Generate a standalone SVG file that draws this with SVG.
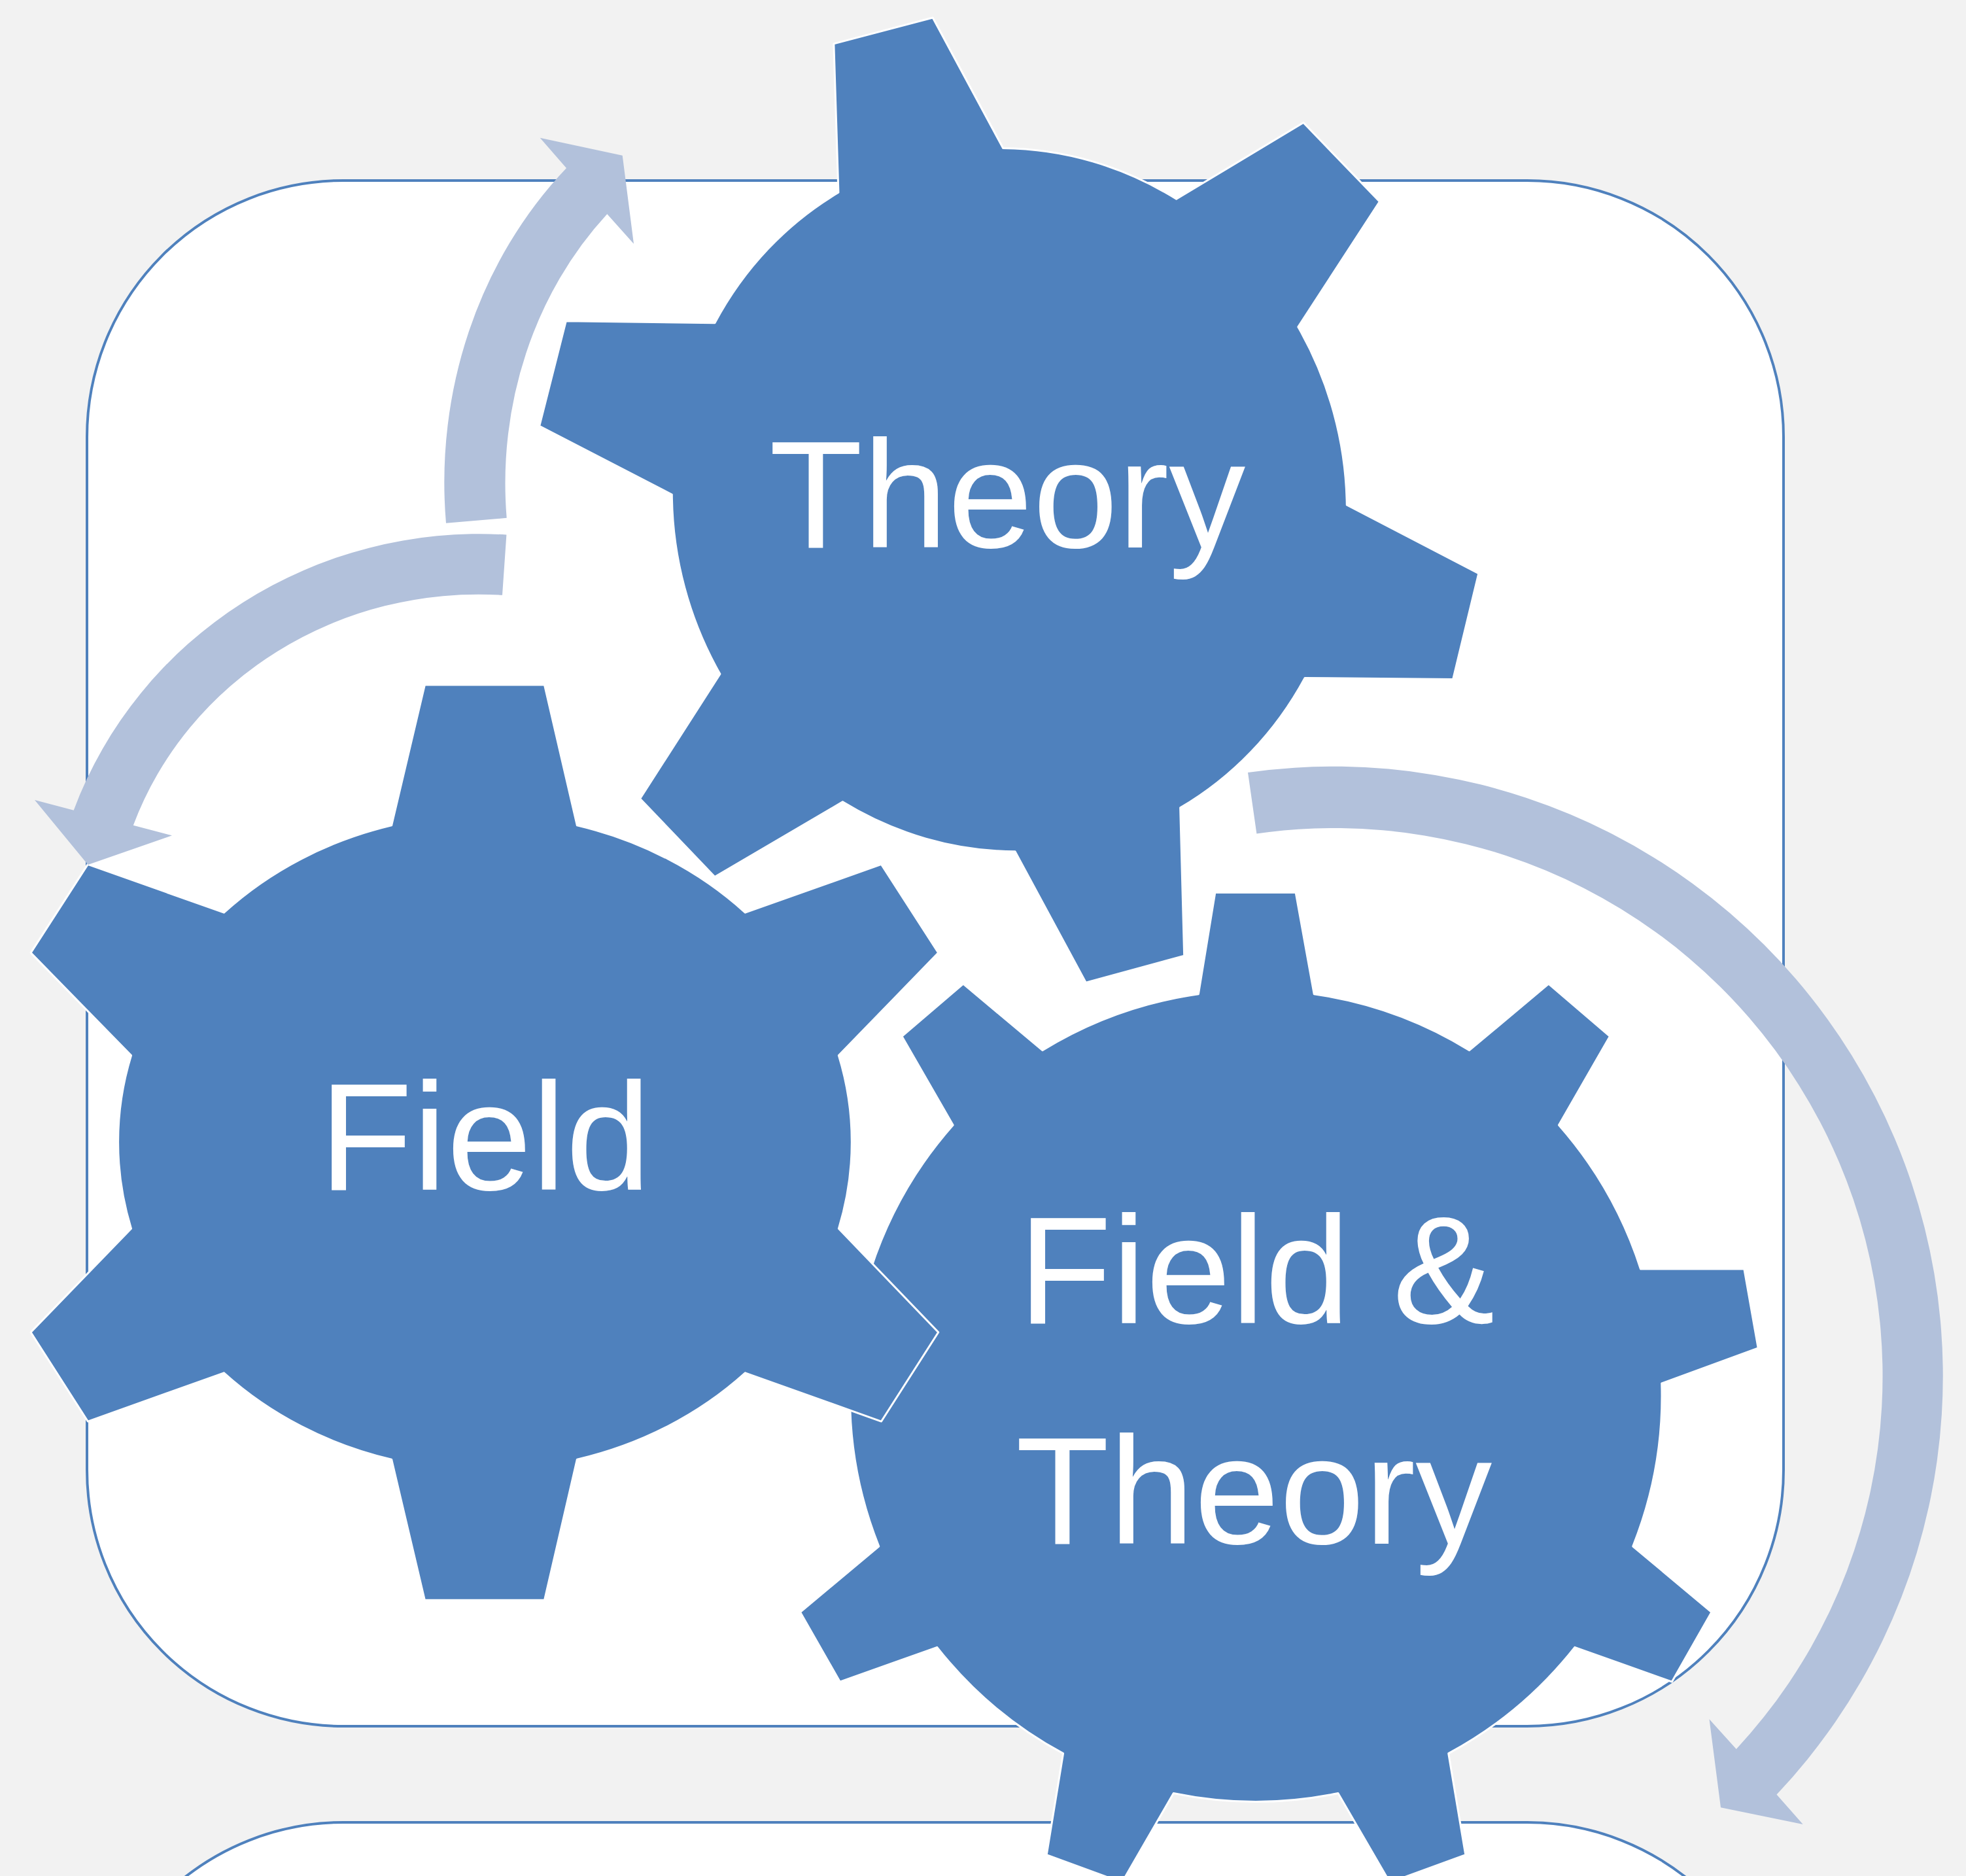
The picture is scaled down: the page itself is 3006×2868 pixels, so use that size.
<svg xmlns="http://www.w3.org/2000/svg" width="3006" height="2868" viewBox="0 0 3006 2868">
<style>
.panel{fill:#fff;stroke:#4f81bd;stroke-width:4}
.gear{fill:#4f81bd;stroke:#fff;stroke-width:3;stroke-linejoin:round}
.arrow{fill:#b2c1db}
text{font-family:"Liberation Sans",Arial,sans-serif;font-size:234px;fill:#fff}
</style>
<rect width="3006" height="2868" fill="#f2f2f2"/>
<g id="panels">
<rect class="panel" x="133" y="276" width="2594" height="2363" rx="392" ry="392"/>
<rect class="panel" x="133" y="2786" width="2594" height="2363" rx="392" ry="392"/>
</g>
<g id="gear-combined">
<path class="gear" transform="translate(1920 2131) scale(1.0025) translate(-1920 -2131)" d="M1858 1366.3L1981 1366.3L2009 1521.3A620 620 0 0 1 2245.8 1607L2366.7 1505.7L2460.2 1585.6L2382.3 1721A620 620 0 0 1 2507 1940.4L2665 1940.4L2686.3 2061.2L2539.2 2114.9A620 620 0 0 1 2495.3 2363.4L2615.2 2463.8L2554.8 2570L2406.6 2517.4A620 620 0 0 1 2214 2679.3L2240 2834L2124.6 2876L2045.6 2740A620 620 0 0 1 1794.6 2740L1716 2876L1601 2834L1626.3 2679.3A620 620 0 0 1 1434 2517.4L1285.8 2570L1225.3 2463.8L1345.2 2363.4A620 620 0 0 1 1301.4 2114.9L1154 2061.2L1175 1940.4L1333 1940.4A620 620 0 0 1 1458.3 1721L1380.3 1585.6L1473.9 1505.7L1594.7 1607A620 620 0 0 1 1832.6 1521.3Z"/>
<text x="1557" y="2023">Field &amp;</text>
<text x="1553" y="2360">Theory</text>
</g>
<g id="gear-theory">
<path class="gear" transform="translate(1543 764) scale(1.0025) translate(-1543 -764)" d="M1275.5 68.6L1426.5 28.9L1533.7 227.8A513 538 -15 0 1 1798 305.4L1991.8 189L2108 309.4L1983.7 500.4A513 538 -15 0 1 2058 772L2259 876.5L2220 1037.7L1994 1035.7A513 538 -15 0 1 1804 1233.7L1810 1459.5L1660 1500.3L1552 1300.4A513 538 -15 0 1 1289 1224.7L1094 1339.2L980 1219.8L1102 1029.7A513 538 -15 0 1 1028.6 756.1L826.5 651.7L867 491.5L1094 494.5A513 538 -15 0 1 1282.6 295.5Z"/>
<text x="1176" y="837">Theory</text>
</g>
<g id="gear-field">
<path class="gear" transform="translate(741 1747) scale(1.0025) translate(-741 -1747)" d="M649.6 1048.8L832.3 1048.8L882 1263A559 499 0 0 1 1138.4 1396L1346 1322.4L1433 1457.3L1281 1614A559 499 0 0 1 1281 1878L1433 2036L1346 2172L1138.4 2098A559 499 0 0 1 882 2230L832.3 2444.6L649.6 2444.6L599 2230A559 499 0 0 1 343.4 2098L135.8 2172L48.8 2036L201.9 1878A559 499 0 0 1 201.9 1614L48.8 1457.3L135.8 1322.4L343.4 1396A559 499 0 0 1 599 1263Z"/>
<text x="488" y="1819">Field</text>
</g>
<g id="connectors">
<path class="arrow" d="M682 799.8A605 665 0 0 1 866 257L825.7 210.7L951.7 237.7L969 372.7L928.3 327.3A510 572 0 0 0 774.7 791.8Z"/>
<path class="arrow" d="M774.4 817.5A660 640 0 0 0 112.7 1238.7L53 1223L134.5 1322L263 1277.3L203.8 1261.8A560 530 0 0 1 768 909.8Z"/>
<path class="arrow" d="M1908 1181A932 932 0 0 1 2716.5 2743.5L2756.7 2789L2631 2763.3L2613.5 2628.3L2654.8 2674A838 838 0 0 0 1921.4 1274.5Z"/>
</g>
</svg>
